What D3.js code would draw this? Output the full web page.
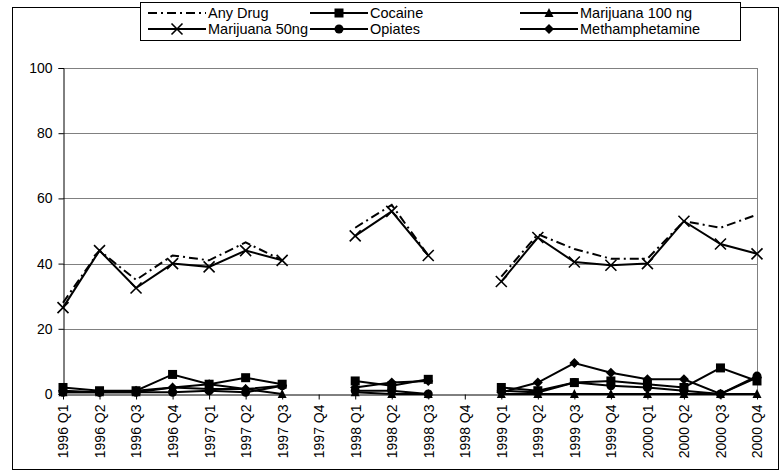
<!DOCTYPE html>
<html><head><meta charset="utf-8">
<script src="https://cdn.jsdelivr.net/npm/d3@7"></script>
<style>body{margin:0;background:#fff}svg{display:block;font-family:"Liberation Sans",Arial,sans-serif}</style>
</head><body><svg id="c" width="781" height="472"></svg>
<script>
const categories = ["1996 Q1","1996 Q2","1996 Q3","1996 Q4","1997 Q1","1997 Q2","1997 Q3","1997 Q4","1998 Q1","1998 Q2","1998 Q3","1998 Q4","1999 Q1","1999 Q2","1999 Q3","1999 Q4","2000 Q1","2000 Q2","2000 Q3","2000 Q4"];
const anyDrug = [28,44,35,42.5,41,46.5,41,null,51,58,42.5,null,36,49,44.5,41.5,41.5,53,51,55];
const marijuana50 = [26.5,44,32.5,40,39,44,41,null,48.5,56,42.5,null,34.5,48,40.5,39.5,40,53,46,43];
const cocaine = [2,1,1,6,3,5,3,null,4,2.5,4.5,null,2,1,3.5,4,3,2,8,4];
const marijuana100 = [0.5,0.5,0.5,2,1.5,1.5,0,null,0.5,0,0,null,0,0,0,0,0,0,0,0];
const opiates = [0.5,0.5,0.5,0.5,1,0.5,2.5,null,1,1,0,null,1,0.5,3.5,2.5,2,1,0,5.5];
const meth = [1,0.5,1,2,3,1.5,2.5,null,2,3.5,4,null,0.5,3.5,9.5,6.5,4.5,4.5,0,5];
const yTicks = [0,20,40,60,80,100];

const series = [
  {name:"Any Drug", values:anyDrug, marker:null, dash:"9,4,2,4"},
  {name:"Cocaine", values:cocaine, marker:"square"},
  {name:"Marijuana 100 ng", values:marijuana100, marker:"triangle"},
  {name:"Marijuana 50ng", values:marijuana50, marker:"x"},
  {name:"Opiates", values:opiates, marker:"circle"},
  {name:"Methamphetamine", values:meth, marker:"diamond"}
];

const svg = d3.select("#c");
const L=63, R=757, T=68, B=394;
const x = d3.scalePoint().domain(categories).range([L,R]);
const y = d3.scaleLinear().domain([0,100]).range([B,T]);

svg.append("rect").attr("x",12.5).attr("y",7.5).attr("width",766).attr("height",462).attr("fill","#fff").attr("stroke","#000").attr("stroke-width",1);

svg.append("g").selectAll("line").data(yTicks.filter(d=>d>0)).join("line")
  .attr("x1",L).attr("x2",R).attr("y1",d=>Math.round(y(d))+0.5).attr("y2",d=>Math.round(y(d))+0.5)
  .attr("stroke","#808080").attr("stroke-width",1);
svg.append("line").attr("x1",R+0.5).attr("x2",R+0.5).attr("y1",T).attr("y2",B).attr("stroke","#808080");

const ya = svg.append("g").attr("transform",`translate(${L+0.5},0)`)
  .call(d3.axisLeft(y).tickValues(yTicks).tickSize(5).tickPadding(6));
ya.select(".domain").attr("stroke","#000");
ya.selectAll("text").attr("font-size",14).attr("fill","#000").attr("font-family","Liberation Sans, Arial, sans-serif");

const xa = svg.append("g").attr("transform",`translate(0,${B+0.5})`)
  .call(d3.axisBottom(x).tickSize(5).tickSizeOuter(0));
xa.select(".domain").attr("stroke","#000");
xa.selectAll("text").attr("font-size",14).attr("fill","#000").attr("font-family","Liberation Sans, Arial, sans-serif")
  .attr("transform","rotate(-90)").attr("text-anchor","end").attr("dx",0).attr("dy","0.35em").attr("x",-10).attr("y",0);

function drawMarker(g, type, cx, cy){
  const s=4.5;
  if(type==="square") g.append("rect").attr("x",cx-s).attr("y",cy-s).attr("width",2*s).attr("height",2*s).attr("fill","#000");
  else if(type==="triangle") g.append("path").attr("d",`M${cx},${cy-s-0.5}L${cx+s},${cy+s-0.5}L${cx-s},${cy+s-0.5}Z`).attr("fill","#000");
  else if(type==="circle") g.append("circle").attr("cx",cx).attr("cy",cy).attr("r",s).attr("fill","#000");
  else if(type==="diamond") g.append("path").attr("d",`M${cx},${cy-s-0.5}L${cx+s+0.5},${cy}L${cx},${cy+s+0.5}L${cx-s-0.5},${cy}Z`).attr("fill","#000");
  else if(type==="x") g.append("path").attr("d",`M${cx-5.5},${cy-5.5}L${cx+5.5},${cy+5.5}M${cx-5.5},${cy+5.5}L${cx+5.5},${cy-5.5}`).attr("stroke","#000").attr("stroke-width",1.6).attr("fill","none");
}

const line = d3.line().defined(d=>d.v!=null).x(d=>x(d.c)).y(d=>y(d.v));
const plot = svg.append("g");
series.forEach(s=>{
  const pts = categories.map((c,i)=>({c, v:s.values[i]}));
  plot.append("path").attr("d",line(pts)).attr("fill","none").attr("stroke","#000")
    .attr("stroke-width",2).attr("stroke-dasharray",s.dash||null);
  if(s.marker){
    pts.filter(d=>d.v!=null).forEach(d=>drawMarker(plot,s.marker,x(d.c),y(d.v)));
  }
});

const lg = svg.append("g");
lg.append("rect").attr("x",140.5).attr("y",2.5).attr("width",600).attr("height",38).attr("fill","#fff").attr("stroke","#000");
const cols=[148,310,520], rows=[13,29];
const legendOrder = ["Any Drug","Cocaine","Marijuana 100 ng","Marijuana 50ng","Opiates","Methamphetamine"];
legendOrder.forEach((n,i)=>{
  const s = series.find(d=>d.name===n);
  const cx = cols[i%3], cy = rows[Math.floor(i/3)];
  const lw = 58;
  lg.append("line").attr("x1",cx).attr("x2",cx+lw).attr("y1",cy).attr("y2",cy).attr("stroke","#000").attr("stroke-width",2).attr("stroke-dasharray",s.dash||null);
  if(s.marker) drawMarker(lg,s.marker,cx+lw/2,cy);
  lg.append("text").attr("x",cx+lw+2).attr("y",cy).attr("dy","0.35em").attr("font-size",14.5).text(n);
});
</script>
</body></html>
